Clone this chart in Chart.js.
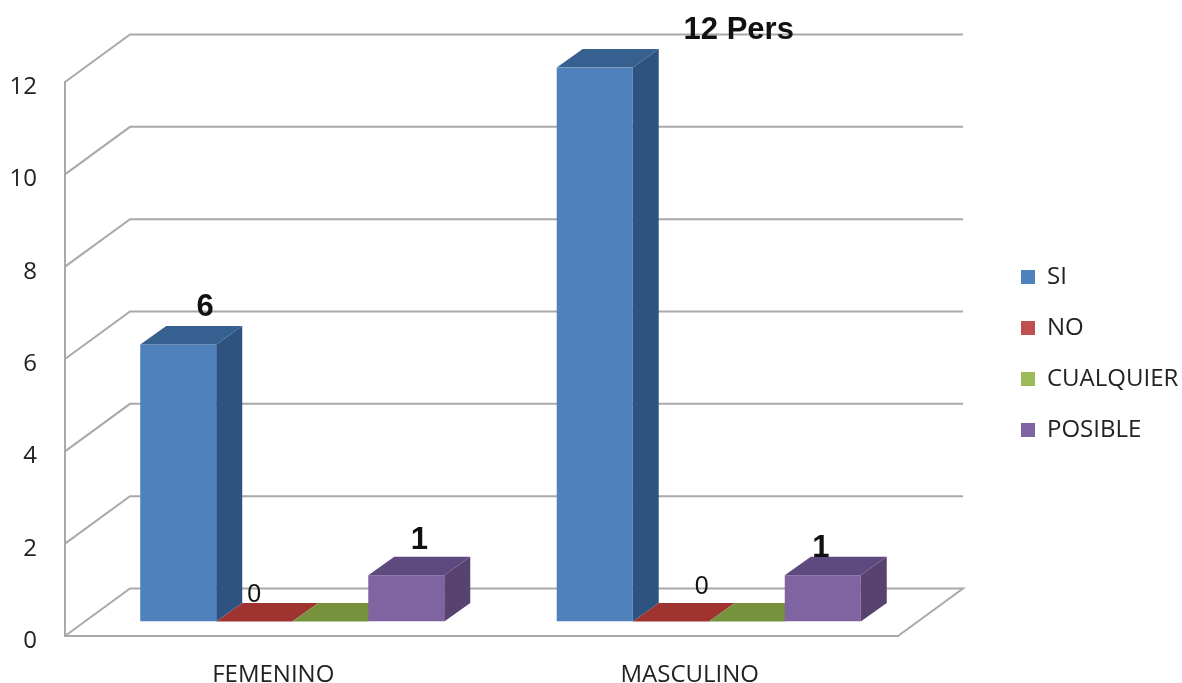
<!DOCTYPE html>
<html lang="es">
<head>
	<meta charset="UTF-8">
	<title>SI / NO / CUALQUIER / POSIBLE por sexo</title>
	<script src="https://cdn.jsdelivr.net/npm/chart.js"></script>
	<style>
		body { margin: 0; background: #fff; }
		canvas { display: block; }
	</style>
</head>
<body>
	<canvas id="chart" width="1182" height="683"></canvas>
	<script>
		const categories = ['FEMENINO', 'MASCULINO'];
		const seriesNames = ['SI', 'NO', 'CUALQUIER', 'POSIBLE'];
		const si = [6, 12];
		const no = [0, 0];
		const cualquier = [0, 0];
		const posible = [1, 1];
		const yTicks = [0, 2, 4, 6, 8, 10, 12];

		const frontColors = ['#4f81bd', '#c0504d', '#9bbb59', '#8064a2'];
		const sideColors = ['#2f5381', '#7d2f2c', '#5f7a34', '#584370'];
		const topColors = ['#36608f', '#9e332f', '#76923c', '#5f4a7f'];

		const GRID = '#a9a9a9';
		const WALL_DX = 65, WALL_DY = 47.5, WALL_RIGHT = 963;  // depth of the back wall
		const BAR_DX = 19, BAR_DY = -14.5;                     // bars sit inside the floor
		const DEPTH_X = 26, DEPTH_Y = 18.5;                    // depth of each bar

		// value labels: which bar, text, and how far from the bar's top centre
		const valueLabels = [
			{ ds: 0, i: 0, text: String(si[0]), dx: 27, dy: -37, bold: true },
			{ ds: 0, i: 1, text: si[1] + ' Pers', dx: 144, dy: -37, bold: true },
			{ ds: 1, i: 0, text: String(no[0]), dx: 0, dy: -26 },
			{ ds: 1, i: 1, text: String(no[1]), dx: 31, dy: -34 },
			{ ds: 3, i: 0, text: String(posible[0]), dx: 13, dy: -35, bold: true },
			{ ds: 3, i: 1, text: String(posible[1]), dx: -2, dy: -27, bold: true }
		];

		function poly(ctx, color, pts) {
			ctx.fillStyle = color;
			ctx.beginPath();
			pts.forEach((p, n) => n ? ctx.lineTo(p[0], p[1]) : ctx.moveTo(p[0], p[1]));
			ctx.closePath();
			ctx.fill();
		}

		function topFace(ctx, bar, color) {
			const l = bar.x - bar.width / 2, r = bar.x + bar.width / 2, t = bar.y;
			poly(ctx, color, [[l, t], [r, t], [r + DEPTH_X, t - DEPTH_Y], [l + DEPTH_X, t - DEPTH_Y]]);
		}

		const isFlat = bar => bar.base - bar.y < 0.5;

		const walls3d = {
			id: 'walls3d',
			// legend does not take space from the plot, it is placed by hand
			afterLayout(chart) {
				const legend = chart.legend;
				legend.left = 994;
				legend.right = 1182;
				legend.top = 238;
				legend.bottom = 683;
			},
			beforeDatasetsDraw(chart) {
				const { ctx, chartArea, scales: { y } } = chart;
				ctx.save();
				ctx.strokeStyle = GRID;
				ctx.lineWidth = 2;
				yTicks.forEach(v => {
					const py = y.getPixelForValue(v);
					ctx.beginPath();
					ctx.moveTo(chartArea.left, py);
					ctx.lineTo(chartArea.left + WALL_DX, py - WALL_DY);
					ctx.lineTo(WALL_RIGHT, py - WALL_DY);
					if (v === 0) ctx.lineTo(chartArea.right, py);
					ctx.stroke();
				});
				ctx.restore();
				// bars are shifted onto the floor until afterDatasetsDraw
				ctx.save();
				ctx.translate(BAR_DX, BAR_DY);
				// zero bars lie flat on the floor, behind every standing bar
				chart.getSortedVisibleDatasetMetas().forEach(meta => {
					meta.data.filter(isFlat).forEach(bar => topFace(ctx, bar, topColors[meta.index]));
				});
			},
			afterDatasetDraw(chart, args) {
				const ctx = chart.ctx;
				const k = args.index;
				args.meta.data.filter(bar => !isFlat(bar)).forEach(bar => {
					const r = bar.x + bar.width / 2, t = bar.y, b = bar.base;
					poly(ctx, sideColors[k], [[r, t], [r + DEPTH_X, t - DEPTH_Y], [r + DEPTH_X, b - DEPTH_Y], [r, b]]);
					topFace(ctx, bar, topColors[k]);
				});
			},
			afterDatasetsDraw(chart) {
				const ctx = chart.ctx;
				ctx.restore();
				ctx.save();
				ctx.textAlign = 'center';
				ctx.textBaseline = 'middle';
				ctx.fillStyle = '#111';
				valueLabels.forEach(lab => {
					const bar = chart.getDatasetMeta(lab.ds).data[lab.i];
					ctx.font = lab.bold ? 'bold 31px "Liberation Sans"' : '25px "Liberation Sans"';
					ctx.fillText(lab.text, bar.x + BAR_DX + lab.dx, bar.y + BAR_DY + lab.dy);
				});
				ctx.restore();
			}
		};

		const allValues = [si, no, cualquier, posible];

		new Chart(document.getElementById('chart'), {
			type: 'bar',
			plugins: [walls3d],
			data: {
				labels: categories,
				datasets: seriesNames.map((name, k) => ({
					label: name,
					data: allValues[k],
					backgroundColor: frontColors[k],
					borderWidth: 0
				}))
			},
			options: {
				responsive: false,
				animation: false,
				layout: { padding: { top: 82, right: 284 } },
				datasets: { bar: { categoryPercentage: 0.73, barPercentage: 1 } },
				plugins: {
					tooltip: { enabled: false },
					legend: {
						position: 'chartArea',
						align: 'start',
						labels: {
							boxWidth: 14,
							boxHeight: 14,
							padding: 27,
							color: '#222',
							font: { family: '"Open Sans"', size: 24 }
						}
					}
				},
				scales: {
					x: {
						grid: { display: false, drawTicks: false },
						border: { color: GRID, width: 2 },
						ticks: { color: '#222', padding: 25, font: { family: '"Open Sans"', size: 24 }, maxRotation: 0 },
						afterFit: s => { s.height = 47; }
					},
					y: {
						min: 0,
						max: 12,
						grid: { display: false, drawTicks: false },
						border: { color: GRID, width: 2 },
						afterBuildTicks: s => { s.ticks = yTicks.map(value => ({ value })); },
						ticks: { color: '#222', padding: 28, labelOffset: 5, font: { family: '"Open Sans"', size: 24 } },
						afterFit: s => { s.width = 65; }
					}
				}
			}
		});
	</script>
</body>
</html>
